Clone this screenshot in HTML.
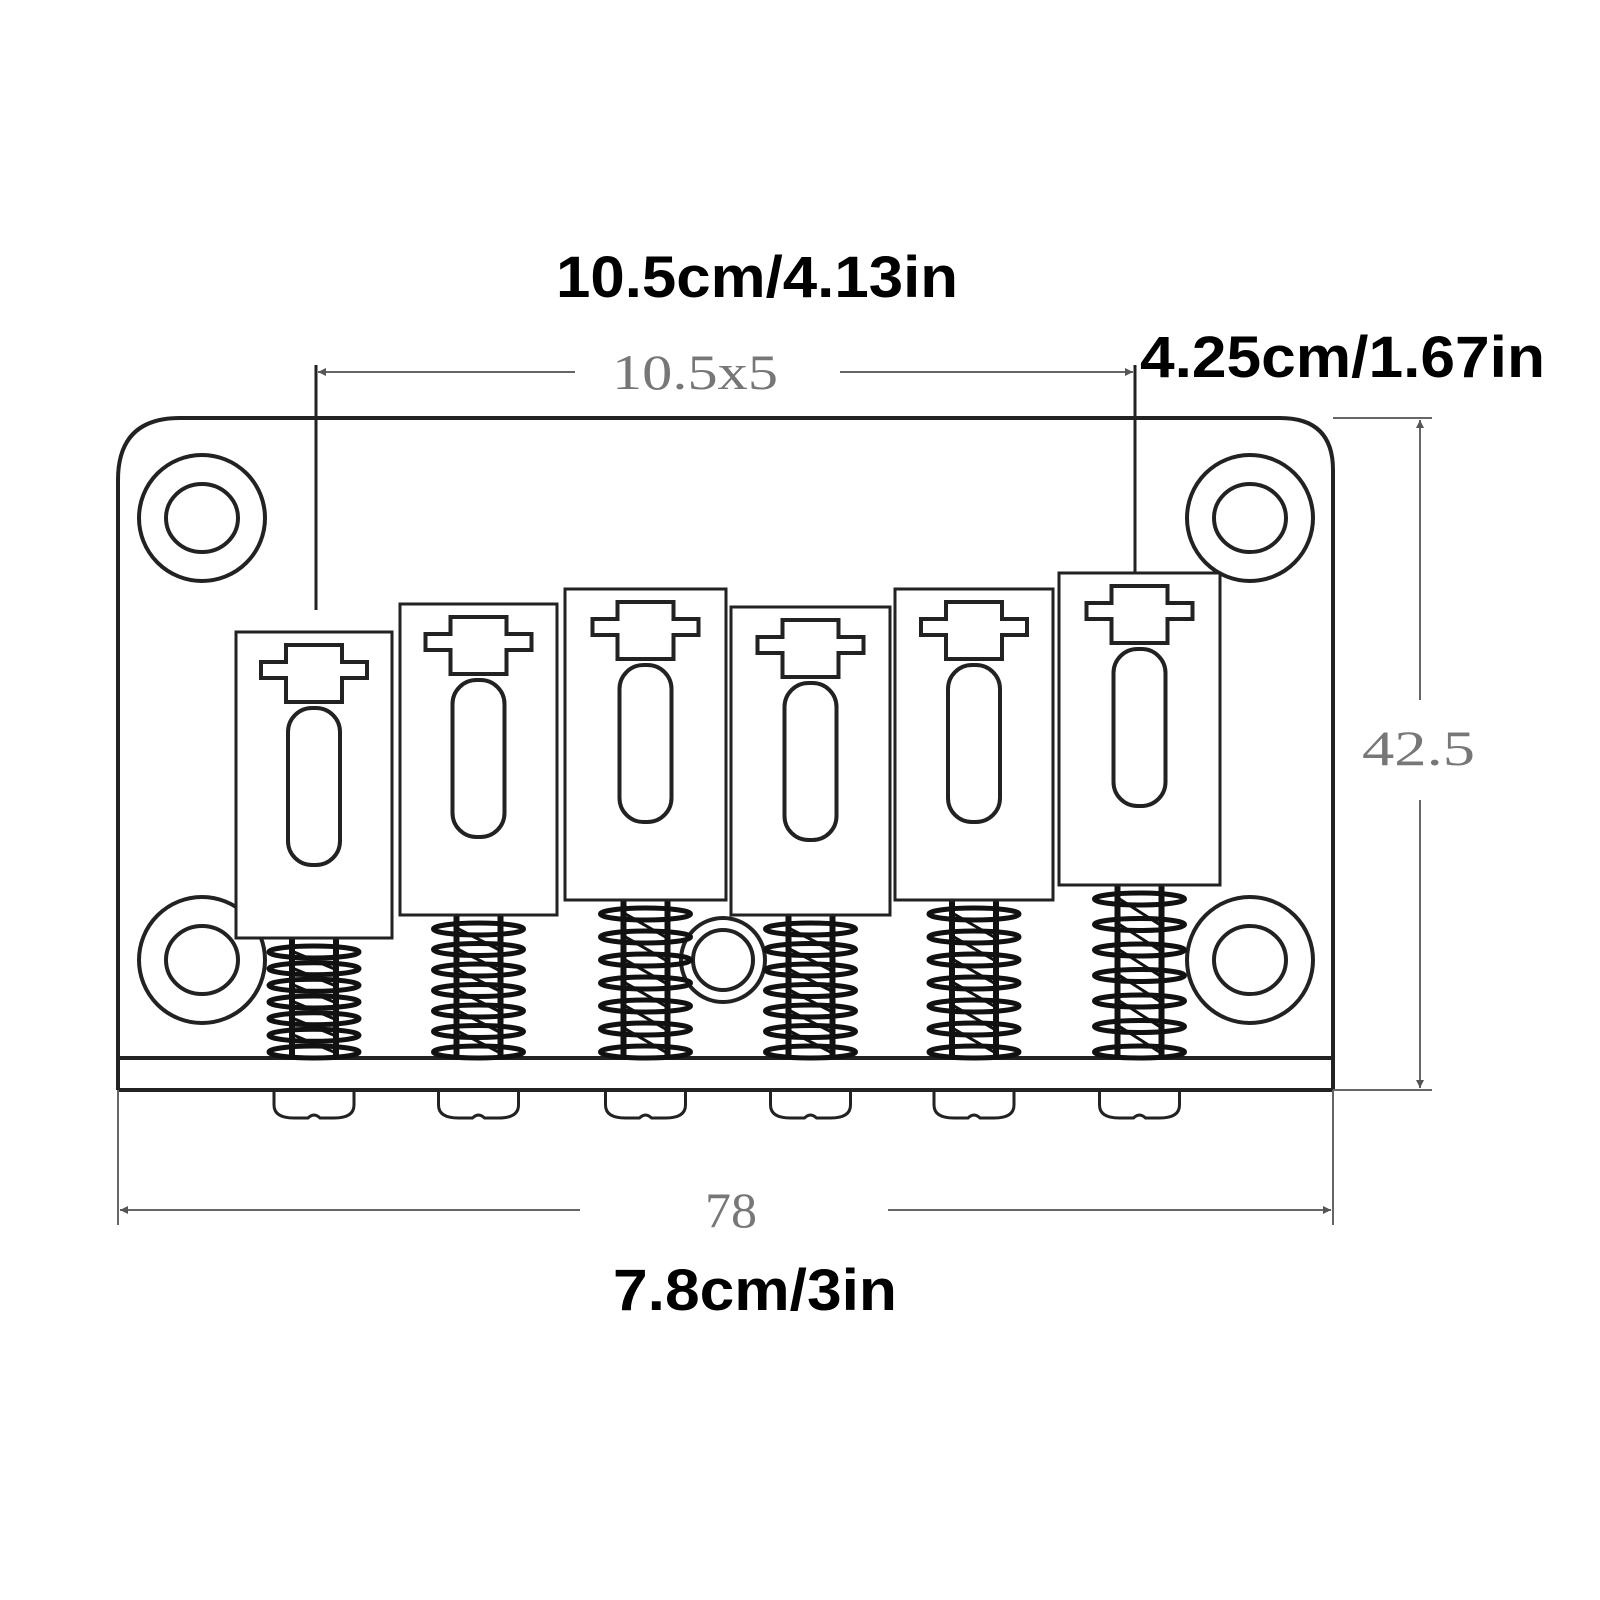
<!DOCTYPE html>
<html><head><style>body{margin:0;background:#fff}svg{display:block}</style></head><body>
<svg width="1600" height="1600" viewBox="0 0 1600 1600" xmlns="http://www.w3.org/2000/svg">
<rect width="1600" height="1600" fill="#fff"/>
<defs>
<marker id="a" viewBox="0 0 10 10" refX="10" refY="5" markerWidth="14" markerHeight="8" orient="auto-start-reverse" markerUnits="userSpaceOnUse"><path d="M0,0 L10,5 L0,10 Z" fill="#555"/></marker>
<g id="cap" fill="#fff" stroke="#222" stroke-width="4">
<path d="M-28,13 L28,13 L28,30 L53,30 L53,46 L28,46 L28,70 L-28,70 L-28,46 L-53,46 L-53,30 L-28,30 Z"/>
<rect x="-26" y="76" width="52" height="157" rx="24"/>
</g>
<path id="scr" d="M-40,1092 L-40,1105 Q-40,1118 -20,1118 L-6,1118 Q0,1112 6,1118 L20,1118 Q40,1118 40,1105 L40,1092" fill="none" stroke="#222" stroke-width="3"/>
<g id="sp938" fill="none" stroke="#111">
<g stroke-width="5"><ellipse cx="0" cy="952" rx="45" ry="6"/><ellipse cx="0" cy="968.7" rx="45" ry="6"/><ellipse cx="0" cy="985.3" rx="45" ry="6"/><ellipse cx="0" cy="1002" rx="45" ry="6"/><ellipse cx="0" cy="1018.7" rx="45" ry="6"/><ellipse cx="0" cy="1035.3" rx="45" ry="6"/><ellipse cx="0" cy="1052" rx="45" ry="6"/></g>
<path stroke-width="3" d="M-20,952 L20,968.7 M-20,968.7 L20,985.3 M-20,985.3 L20,1002 M-20,1002 L20,1018.7 M-20,1018.7 L20,1035.3 M-20,1035.3 L20,1052"/>
<path stroke-width="6" d="M-22,938 V1056 M22,938 V1056"/>
</g>
<g id="sp915" fill="none" stroke="#111">
<g stroke-width="5"><ellipse cx="0" cy="929" rx="45" ry="6"/><ellipse cx="0" cy="949.5" rx="45" ry="6"/><ellipse cx="0" cy="970" rx="45" ry="6"/><ellipse cx="0" cy="990.5" rx="45" ry="6"/><ellipse cx="0" cy="1011" rx="45" ry="6"/><ellipse cx="0" cy="1031.5" rx="45" ry="6"/><ellipse cx="0" cy="1052" rx="45" ry="6"/></g>
<path stroke-width="3" d="M-20,929 L20,949.5 M-20,949.5 L20,970 M-20,970 L20,990.5 M-20,990.5 L20,1011 M-20,1011 L20,1031.5 M-20,1031.5 L20,1052"/>
<path stroke-width="6" d="M-22,915 V1056 M22,915 V1056"/>
</g>
<g id="sp900" fill="none" stroke="#111">
<g stroke-width="5"><ellipse cx="0" cy="914" rx="45" ry="6"/><ellipse cx="0" cy="937" rx="45" ry="6"/><ellipse cx="0" cy="960" rx="45" ry="6"/><ellipse cx="0" cy="983" rx="45" ry="6"/><ellipse cx="0" cy="1006" rx="45" ry="6"/><ellipse cx="0" cy="1029" rx="45" ry="6"/><ellipse cx="0" cy="1052" rx="45" ry="6"/></g>
<path stroke-width="3" d="M-20,914 L20,937 M-20,937 L20,960 M-20,960 L20,983 M-20,983 L20,1006 M-20,1006 L20,1029 M-20,1029 L20,1052"/>
<path stroke-width="6" d="M-22,900 V1056 M22,900 V1056"/>
</g>
<g id="sp885" fill="none" stroke="#111">
<g stroke-width="5"><ellipse cx="0" cy="899" rx="45" ry="6"/><ellipse cx="0" cy="924.5" rx="45" ry="6"/><ellipse cx="0" cy="950" rx="45" ry="6"/><ellipse cx="0" cy="975.5" rx="45" ry="6"/><ellipse cx="0" cy="1001" rx="45" ry="6"/><ellipse cx="0" cy="1026.5" rx="45" ry="6"/><ellipse cx="0" cy="1052" rx="45" ry="6"/></g>
<path stroke-width="3" d="M-20,899 L20,924.5 M-20,924.5 L20,950 M-20,950 L20,975.5 M-20,975.5 L20,1001 M-20,1001 L20,1026.5 M-20,1026.5 L20,1052"/>
<path stroke-width="6" d="M-22,885 V1056 M22,885 V1056"/>
</g>
</defs>
<g fill="none" stroke="#222" stroke-width="4">
<path d="M118,1090 L118,480 Q118,418 180,418 L1280,418 Q1333,418 1333,470 L1333,1090"/>
<path d="M118,1058 L1333,1058 M118,1090 L1333,1090"/>
<circle cx="202" cy="518" r="63"/><ellipse cx="202" cy="518" rx="36" ry="34"/>
<circle cx="1250" cy="518" r="63"/><ellipse cx="1250" cy="518" rx="36" ry="34"/>
<circle cx="202" cy="960" r="63"/><ellipse cx="202" cy="960" rx="36" ry="34"/>
<circle cx="1250" cy="960" r="63"/><ellipse cx="1250" cy="960" rx="36" ry="34"/>
<circle cx="723" cy="960" r="42"/><circle cx="723" cy="960" r="30"/>
</g>
<g stroke="#666" stroke-width="2" fill="none">
<line x1="118" y1="1090" x2="118" y2="1225"/><line x1="1333" y1="1090" x2="1333" y2="1225"/>
<line x1="1333" y1="418" x2="1432" y2="418"/><line x1="1333" y1="1090" x2="1432" y2="1090"/>
<line x1="120" y1="1210" x2="580" y2="1210" marker-start="url(#a)"/>
<line x1="888" y1="1210" x2="1331" y2="1210" marker-end="url(#a)"/>
<line x1="1420" y1="420" x2="1420" y2="700" marker-start="url(#a)"/>
<line x1="1420" y1="800" x2="1420" y2="1088" marker-end="url(#a)"/>
<line x1="318" y1="372" x2="575" y2="372" marker-start="url(#a)"/>
<line x1="840" y1="372" x2="1133" y2="372" marker-end="url(#a)"/>
</g>
<g stroke="#222" stroke-width="3"><line x1="316" y1="365" x2="316" y2="610"/><line x1="1135" y1="365" x2="1135" y2="572"/></g>

<use href="#sp938" x="314"/><use href="#sp915" x="478.5"/><use href="#sp900" x="645.5"/><use href="#sp915" x="810.5"/><use href="#sp900" x="974"/><use href="#sp885" x="1139.5"/>
<use href="#scr" x="314"/><use href="#scr" x="478.5"/><use href="#scr" x="645.5"/><use href="#scr" x="810.5"/><use href="#scr" x="974"/><use href="#scr" x="1139.5"/>

<g fill="#fff" stroke="#222" stroke-width="3">
<rect x="236" y="632" width="156" height="306"/>
<rect x="400" y="604" width="157" height="311"/>
<rect x="565" y="589" width="161" height="311"/>
<rect x="731" y="607" width="159" height="308"/>
<rect x="895" y="589" width="158" height="311"/>
<rect x="1059" y="573" width="161" height="312"/>
</g>
<use href="#cap" x="314" y="632"/><use href="#cap" x="478.5" y="604"/><use href="#cap" x="645.5" y="589"/><use href="#cap" x="810.5" y="607"/><use href="#cap" x="974" y="589"/><use href="#cap" x="1139.5" y="573"/>

<g font-family="Liberation Serif, serif" font-size="50" fill="#777">
<text x="612" y="389" textLength="166" lengthAdjust="spacingAndGlyphs">10.5x5</text>
<text x="1362" y="765" textLength="113" lengthAdjust="spacingAndGlyphs">42.5</text>
<text x="705" y="1227" textLength="52" lengthAdjust="spacingAndGlyphs">78</text>
</g>
<g font-family="Liberation Sans, sans-serif" font-size="58" font-weight="bold" fill="#000">
<text x="556" y="297" textLength="402" lengthAdjust="spacingAndGlyphs">10.5cm/4.13in</text>
<text x="1140" y="377" textLength="405" lengthAdjust="spacingAndGlyphs">4.25cm/1.67in</text>
<text x="613" y="1310" textLength="284" lengthAdjust="spacingAndGlyphs">7.8cm/3in</text>
</g>
</svg>
</body></html>
